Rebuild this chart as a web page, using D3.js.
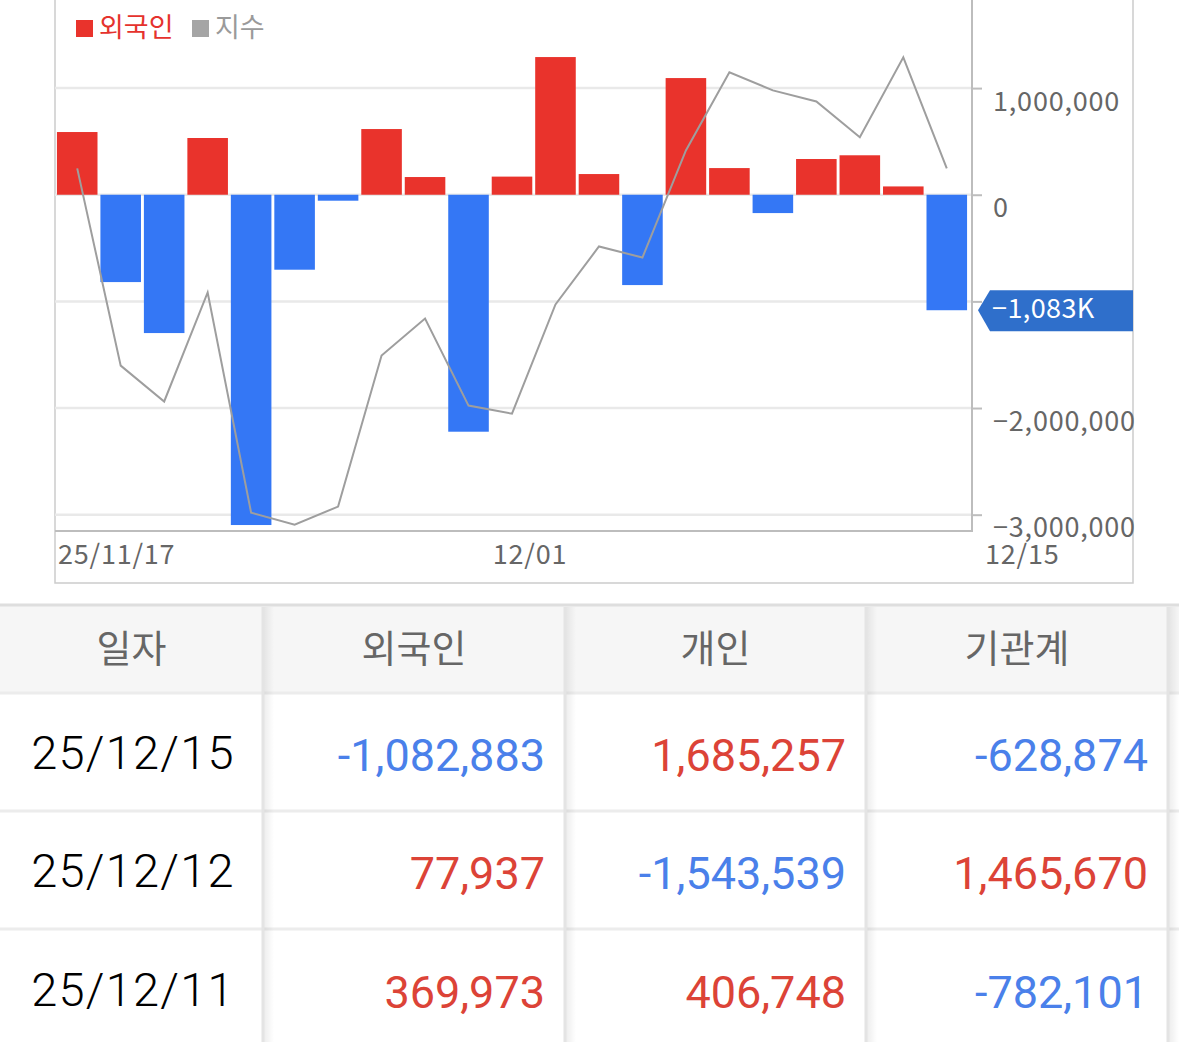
<!DOCTYPE html>
<html>
<head>
<meta charset="utf-8">
<script src="https://cdn.jsdelivr.net/npm/d3@7"></script>
<style>
  body { margin: 0; background: #fff; }
  svg { display: block; }
</style>
</head>
<body>
<div id="chart"></div>
<script>
// data
var dates = ["25/11/17","25/11/18","25/11/19","25/11/20","25/11/21",
             "25/11/24","25/11/25","25/11/26","25/11/27","25/11/28",
             "25/12/01","25/12/02","25/12/03","25/12/04","25/12/05",
             "25/12/08","25/12/09","25/12/10","25/12/11","25/12/12","25/12/15"];
var foreign = [588000, -819000, -1297000, 532000, -3097000,
               -703000, -56000, 616000, 166000, -2222000,
               170000, 1291000, 194000, -847000, 1094000,
               250000, -172000, 335000, 369973, 77937, -1082883];
var indexVals = [4040.6, 3935.1, 3915.9, 3974.2, 3856.4,
                 3850.0, 3859.7, 3940.5, 3960.3, 3913.7,
                 3909.4, 3967.8, 3998.8, 3992.9, 4050.2,
                 4092.0, 4082.3, 4076.4, 4057.2, 4100.0, 4040.6];
var xTickIdx = [0, 10, 20];
var xTickLabels = ["25/11/17", "12/01", "12/15"];
var yTicks = [1000000, 0, -1000000, -2000000, -3000000];

var headers = ["일자", "외국인", "개인", "기관계", ""];
var tableDates = ["25/12/15", "25/12/12", "25/12/11"];
var tableForeign = [-1082883, 77937, 369973];
var tableIndividual = [1685257, -1543539, 406748];
var tableInstitution = [-628874, 1465670, -782101];

// settings
var W = 1179, H = 1042;
var plot = {left: 55, right: 972, top: 0, bottom: 531};
var RED = "#e9332c", BLUE = "#3477f5", GRID = "#e9e9e9", AXIS = "#bdbdbd";
var cjk = "'Noto Sans CJK KR', 'Noto Sans', sans-serif";

var svg = d3.select("#chart").append("svg")
    .attr("width", W).attr("height", H);

var x = d3.scaleBand()
    .domain(d3.range(dates.length))
    .range([55.5, 968.5])
    .paddingInner(0.067)
    .paddingOuter(0.033);

var y = d3.scaleLinear()
    .domain([-3153000, 1826000])
    .range([plot.bottom, plot.top]);

var yIdx = d3.scaleLinear()
    .domain([3850, 4100])
    .range([524.7, 57.3]);

var last = foreign[foreign.length - 1];
var by = y(last);

// outer frame
svg.append("path")
    .attr("d", "M55,0V583H1133V0")
    .attr("fill", "none").attr("stroke", "#cccccc").attr("stroke-width", 1.5);

// gridlines
svg.append("g").selectAll("line")
  .data(yTicks)
  .enter().append("line")
    .attr("x1", plot.left).attr("x2", plot.right)
    .attr("y1", function(d) { return y(d); })
    .attr("y2", function(d) { return y(d); })
    .attr("stroke", GRID).attr("stroke-width", 2.5);

// right axis
var yAxis = svg.append("g")
    .attr("transform", "translate(" + plot.right + ",0)")
    .call(d3.axisRight(y).tickValues(yTicks).tickSize(10).tickPadding(11)
      .tickFormat(function(d) { return d3.format(",")(d).replace("-", "\u2212"); }));
yAxis.select(".domain").remove();
yAxis.selectAll(".tick line").attr("stroke", AXIS).attr("stroke-width", 2);
yAxis.selectAll(".tick text")
    .attr("fill", "#666").attr("font-size", 27).attr("font-family", cjk)
    .attr("letter-spacing", 0.8)
    .attr("dy", "0.82em");
// the last-value badge covers this label
yAxis.selectAll(".tick").filter(function(d) { return Math.abs(y(d) - by) < 30; })
    .select("text").remove();

// plot box lines
svg.append("path")
    .attr("d", "M" + plot.left + "," + plot.bottom + "H" + plot.right + "V0")
    .attr("fill", "none").attr("stroke", AXIS).attr("stroke-width", 2);

// bars
svg.append("g").selectAll("rect")
  .data(foreign)
  .enter().append("rect")
    .attr("x", function(d, i) { return x(i); })
    .attr("width", x.bandwidth())
    .attr("y", function(d) { return y(Math.max(0, d)); })
    .attr("height", function(d) { return Math.abs(y(d) - y(0)); })
    .attr("fill", function(d) { return d >= 0 ? RED : BLUE; });

// index line
svg.append("path")
    .datum(indexVals)
    .attr("fill", "none")
    .attr("stroke", "#9e9e9e")
    .attr("stroke-width", 2)
    .attr("d", d3.line()
      .x(function(d, i) { return x(i) + x.bandwidth() / 2; })
      .y(function(d) { return yIdx(d); }));

// x labels
svg.append("g").selectAll("text")
  .data(xTickIdx)
  .enter().append("text")
    .attr("x", function(d, i) { return i === xTickIdx.length - 1 ? plot.right + 13 : x(d) + 1; })
    .attr("y", 564)
    .attr("fill", "#666").attr("font-size", 27).attr("font-family", cjk)
    .attr("letter-spacing", 0.8)
    .text(function(d, i) { return xTickLabels[i]; });

// last value badge
svg.append("path")
    .attr("d", "M978," + by + "L990," + (by - 20) + "H1133V" + (by + 21) + "H990Z")
    .attr("fill", "#2f6fcb");
svg.append("text")
    .attr("x", 992).attr("y", by - 1)
    .attr("dy", "0.33em")
    .attr("fill", "#fff").attr("font-size", 27).attr("font-family", cjk)
    .attr("letter-spacing", 0.4)
    .text(d3.format(",")(Math.round(last / 1000)).replace("-", "\u2212") + "K");

// legend
var legend = [{name: "외국인", color: RED, text: "#e5322d"}, {name: "지수", color: "#a5a5a5", text: "#9a9a9a"}];
var lx = [76, 192];
legend.forEach(function(l, i) {
  svg.append("rect").attr("x", lx[i]).attr("y", 20).attr("width", 17).attr("height", 17).attr("fill", l.color);
  svg.append("text").attr("x", lx[i] + 23).attr("y", 37)
    .attr("fill", l.text).attr("font-size", 27).attr("font-family", cjk).text(l.name);
});

// table
var colX = [0, 263, 565, 866, 1168, 1470];
var rowY = [604, 693, 811, 929, 1047];
var tbl = svg.append("g");

tbl.append("rect").attr("x", 0).attr("y", rowY[0]).attr("width", W).attr("height", rowY[1] - rowY[0])
    .attr("fill", "#f6f6f6");
tbl.append("line").attr("x1", 0).attr("x2", W).attr("y1", rowY[0] + 1).attr("y2", rowY[0] + 1)
    .attr("stroke", "#dedede").attr("stroke-width", 3);

var defs = svg.append("defs");
var grad = defs.append("linearGradient").attr("id", "shade");
grad.append("stop").attr("offset", "0%").attr("stop-color", "#000").attr("stop-opacity", 0.07);
grad.append("stop").attr("offset", "100%").attr("stop-color", "#000").attr("stop-opacity", 0);

// row separators
rowY.slice(1, 4).forEach(function(ry) {
  tbl.append("line").attr("x1", 0).attr("x2", W).attr("y1", ry).attr("y2", ry)
    .attr("stroke", "#ececec").attr("stroke-width", 3);
});

// column separators
colX.slice(1, 5).forEach(function(cx) {
  tbl.append("rect").attr("x", cx + 1).attr("y", rowY[0] + 3).attr("width", 10).attr("height", H - rowY[0])
    .attr("fill", "url(#shade)");
  tbl.append("line").attr("x1", cx).attr("x2", cx).attr("y1", rowY[0] + 3).attr("y2", H)
    .attr("stroke", "#e4e4e4").attr("stroke-width", 3);
});

// header text
tbl.selectAll(".hdr")
  .data(headers)
  .enter().append("text")
    .attr("x", function(d, i) { return (colX[i] + colX[i + 1]) / 2; })
    .attr("y", 649)
    .attr("dy", "0.35em")
    .attr("text-anchor", "middle")
    .attr("fill", "#666").attr("font-size", 38).attr("font-family", cjk)
    .text(function(d) { return d; });

var rowMid = [753, 871, 990];
tbl.selectAll(".date")
  .data(tableDates)
  .enter().append("text")
    .attr("x", 133)
    .attr("y", function(d, i) { return rowMid[i]; })
    .attr("dy", "0.35em")
    .attr("text-anchor", "middle")
    .attr("fill", "#000").attr("font-size", 47).attr("font-weight", 300)
    .attr("letter-spacing", 1.2)
    .attr("font-family", "Roboto, sans-serif")
    .text(function(d) { return d; });

[tableForeign, tableIndividual, tableInstitution].forEach(function(col, c) {
  tbl.selectAll(".v" + c)
    .data(col)
    .enter().append("text")
      .attr("x", colX[c + 2] - 20)
      .attr("y", function(d, i) { return rowMid[i] + 2; })
      .attr("dy", "0.35em")
      .attr("text-anchor", "end")
      .attr("fill", function(d) { return d < 0 ? "#4a80ea" : "#dc4337"; })
      .attr("font-size", 45)
      .attr("font-family", "Roboto, sans-serif")
      .text(function(d) { return d3.format(",")(d).replace("\u2212", "-"); });
});
</script>
</body>
</html>
